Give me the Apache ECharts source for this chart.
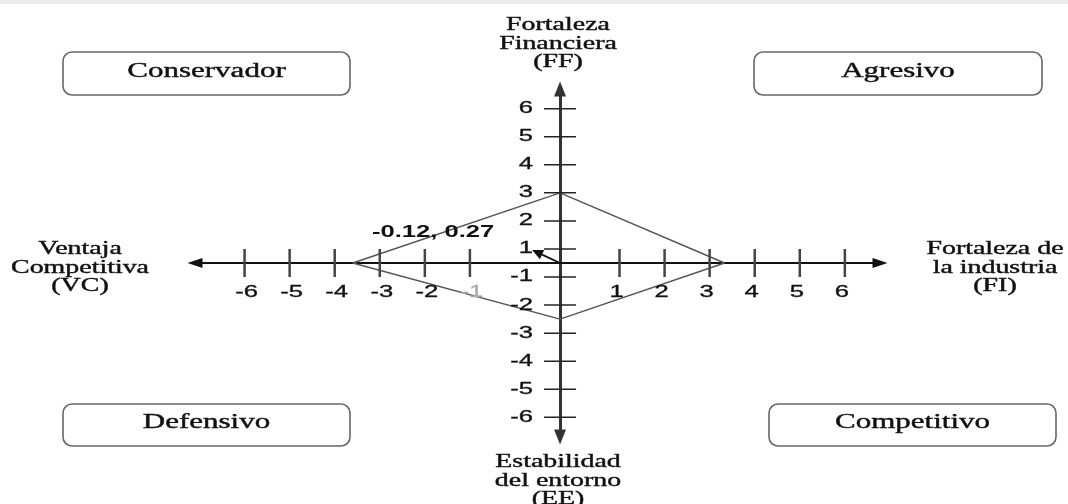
<!DOCTYPE html>
<html>
<head>
<meta charset="utf-8">
<title>Matriz PEYEA</title>
<script src="https://cdn.jsdelivr.net/npm/echarts@6/dist/echarts.min.js"></script>
<style>
  html, body { margin: 0; padding: 0; background: #fff; }
  #chart { width: 1068px; height: 504px; }
</style>
</head>
<body>
<div id="chart"></div>
<script>
var xTicks = [-6, -5, -4, -3, -2, -1, 1, 2, 3, 4, 5, 6];
var yTicks = [6, 5, 4, 3, 2, 1, -1, -2, -3, -4, -5, -6];
// ends of the polygon: VC (left), FF (top), FI (right), EE (bottom)
var vc = -3.6, ff = 3, fi = 3.33, ee = -2.5;
var vectorTip = [-0.31, 0.93];
var vectorText = '-0.12, 0.27';
var quadrants = ['Conservador', 'Agresivo', 'Defensivo', 'Competitivo'];
var axisTitles = ['Fortaleza\nFinanciera\n(FF)', 'Ventaja\nCompetitiva\n(VC)',
                  'Fortaleza de\nla industria\n(FI)', 'Estabilidad\ndel entorno\n(EE)'];

// the hand drawn axes are uneven: the step next to 0 is wider than the rest
function posX(v) {
  if (v <= -1) return v - 1;
  if (v < 0) return 2 * v;
  if (v <= 1) return 1.32 * v;
  return v + 0.32;
}
function posY(v) {
  if (v >= 1) return v - 0.5;
  if (v <= -1) return v + 0.5;
  return 0.5 * v;
}

var SERIF = '"Liberation Serif", "Times New Roman", serif';
var SANS = '"Liberation Sans", Arial, sans-serif';
var STRETCH = 1.55;

function box(x, y, w, h, label) {
  return {
    type: 'group',
    children: [
      { type: 'rect', shape: { x: x, y: y, width: w, height: h, r: 9 },
        style: { fill: '#fff', stroke: '#666', lineWidth: 1.6 } },
      { type: 'text', x: x + w / 2, y: y + h / 2 - 2, scaleX: STRETCH,
        style: { text: label, font: '20px ' + SERIF, fill: '#111', stroke: '#111', lineWidth: 0.4,
                 align: 'center', verticalAlign: 'middle' } }
    ]
  };
}
function title(x, y, txt) {
  return { type: 'text', x: x, y: y, scaleX: STRETCH,
    style: { text: txt, font: '18px ' + SERIF, lineHeight: 18.5, fill: '#111', stroke: '#111', lineWidth: 0.4,
             align: 'center', verticalAlign: 'middle' } };
}

var myChart = echarts.init(document.getElementById('chart'));
var option = {
  animation: false,
  backgroundColor: '#fff',
  grid: { left: 195, right: 188, top: 89, bottom: 67, outerBoundsMode: 'none' },
  xAxis: {
    type: 'value', min: -8.1, max: 7.1,
    axisLine: { onZero: true, symbol: ['triangle', 'triangle'], symbolSize: [10, 15],
                lineStyle: { color: '#111', width: 2 } },
    axisTick: { show: false }, axisLabel: { show: false }, splitLine: { show: false }
  },
  yAxis: {
    type: 'value', min: -6.2, max: 6.2,
    axisLine: { onZero: true, symbol: ['triangle', 'triangle'], symbolSize: [12, 15],
                lineStyle: { color: '#333', width: 3 } },
    axisTick: { show: false }, axisLabel: { show: false }, splitLine: { show: false }
  },
  graphic: [
    { type: 'rect', shape: { x: 0, y: 0, width: 1068, height: 4 }, style: { fill: '#ebebeb' } },
    box(63, 52, 287, 43, quadrants[0]),
    box(754, 52, 288, 43, quadrants[1]),
    box(63, 404, 287, 42, quadrants[2]),
    box(769, 404, 287, 42, quadrants[3]),
    title(558, 44, axisTitles[0]),
    title(80, 268, axisTitles[1]),
    title(995, 268, axisTitles[2]),
    title(558, 481, axisTitles[3])
  ],
  series: [
    {
      // polygon
      type: 'line',
      silent: true,
      symbol: 'none',
      lineStyle: { color: '#555', width: 1.5 },
      data: [[posX(vc), 0], [0, posY(ff)], [posX(fi), 0], [0, posY(ee)], [posX(vc), 0]],
      z: 3
    },
    {
      // x ticks
      type: 'custom',
      silent: true,
      data: xTicks.map(function (v) { return [posX(v), 0]; }),
      renderItem: function (params, api) {
        var p = api.coord([api.value(0), 0]);
        var v = xTicks[params.dataIndex];
        var c = v === -1 ? '#aaa' : '#111';
        return {
          type: 'group',
          children: [
            { type: 'line', shape: { x1: p[0], y1: p[1] - 14, x2: p[0], y2: p[1] + 14 },
              style: { stroke: '#444', lineWidth: 2.5 } },
            { type: 'text', x: p[0] + (v < 0 ? 2 : -3), y: p[1] + 30, scaleX: 1.6,
              style: { text: String(v), font: '16px ' + SANS, fill: c, stroke: c, lineWidth: 0.3,
                       align: 'center', verticalAlign: 'middle' } }
          ]
        };
      },
      z: 4
    },
    {
      // y ticks
      type: 'custom',
      silent: true,
      data: yTicks.map(function (v) { return [0, posY(v)]; }),
      renderItem: function (params, api) {
        var p = api.coord([0, api.value(1)]);
        var v = yTicks[params.dataIndex];
        return {
          type: 'group',
          children: [
            { type: 'line', shape: { x1: p[0] - 16, y1: p[1], x2: p[0] + 16, y2: p[1] },
              style: { stroke: '#222', lineWidth: 1.5 } },
            { type: 'text', x: p[0] - 27, y: p[1], scaleX: 1.6,
              style: { text: String(v), font: '16px ' + SANS, fill: '#111', stroke: '#111', lineWidth: 0.3,
                       align: 'right', verticalAlign: 'middle' } }
          ]
        };
      },
      z: 4
    },
    {
      // resulting vector
      type: 'custom',
      silent: true,
      data: [[posX(vectorTip[0]), posY(vectorTip[1])]],
      renderItem: function (params, api) {
        var o = api.coord([0, 0]);
        var t = api.coord([api.value(0), api.value(1)]);
        var dx = t[0] - o[0], dy = t[1] - o[1];
        var len = Math.sqrt(dx * dx + dy * dy);
        var ux = dx / len, uy = dy / len;
        var L = 11, W = 5;
        var bx = t[0] - ux * L, by = t[1] - uy * L;
        return {
          type: 'group',
          children: [
            { type: 'line', shape: { x1: o[0], y1: o[1], x2: bx, y2: by },
              style: { stroke: '#111', lineWidth: 1.8 } },
            { type: 'polygon',
              shape: { points: [[t[0], t[1]], [bx - uy * W, by + ux * W], [bx + uy * W, by - ux * W]] },
              style: { fill: '#111' } },
            { type: 'text', x: t[0] - 99, y: t[1] - 17, scaleX: 1.6,
              style: { text: vectorText, font: 'bold 16px ' + SANS, fill: '#111',
                       align: 'center', verticalAlign: 'middle' } }
          ]
        };
      },
      z: 5
    }
  ]
};
myChart.setOption(option);
</script>
</body>
</html>
